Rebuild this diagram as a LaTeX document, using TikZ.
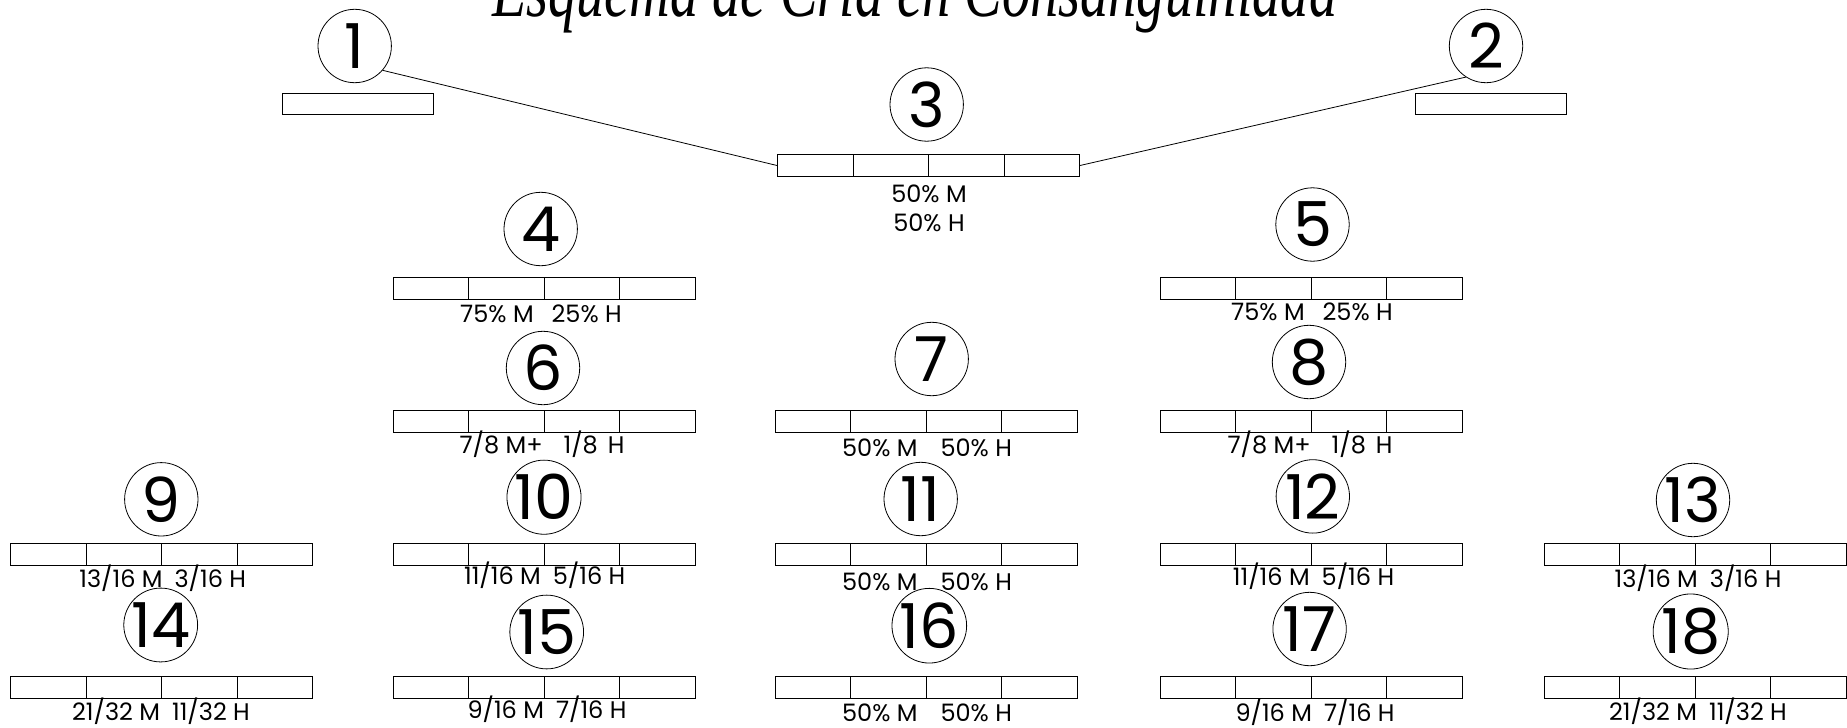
\documentclass[tikz,border=0pt]{standalone}
\usepackage{fontspec}
\setmainfont{Poppins}
\newfontfamily\titlefont{Liberation Serif}
\usepackage{graphicx}
\usetikzlibrary{calc}

\begin{document}
\begin{tikzpicture}[x=1pt, y=-1pt,
  num/.style={draw, circle, line width=0.8pt, minimum size=73.4pt, inner sep=0pt, font=\fontsize{62}{62}\selectfont},
  bar/.style={draw, line width=1pt, minimum width=302pt, minimum height=22.5pt, inner sep=0pt,
    path picture={\foreach \f in {0.25,0.5,0.75}
      \draw[line width=1pt] ($(path picture bounding box.north west)!\f!(path picture bounding box.north east)$)
        -- ($(path picture bounding box.south west)!\f!(path picture bounding box.south east)$);}},
  halfbar/.style={draw, line width=1pt, minimum width=151pt, minimum height=21pt, inner sep=0pt},
  pct/.style={anchor=base, inner sep=0pt, font=\fontsize{24}{28}\selectfont}]
  \path[use as bounding box] (0,0) rectangle (1847,728);
  \clip (0,0) rectangle (1847,728);
  \node[anchor=base west, inner sep=0pt] (title) at (492,16.7) {\resizebox{845pt}{\height}{\titlefont\fontsize{78}{80}\selectfont\itshape Esquema de Cría en Consanguinidad}};
  % parents
  \node[num] (c1) at (354.7,46) {1};
  \node[halfbar] (b1) at (358.3,103.8) {};
  \node[num] (c2) at (1486,46) {2};
  \node[halfbar] (b2) at (1491.3,103.8) {};
  \node[num] (c3) at (926.7,104.5) {3};
  \node[bar] (b3) at (928.5,165.5) {};
  \node[pct] (l3a) at (929,202.5) {50\% M};
  \node[pct] (l3b) at (929,231.5) {50\% H};
  \draw[line width=0.8pt] (c1.-41) -- (b3.west);
  \draw[line width=0.8pt] (c2.-123) -- (b3.east);
  % second row
  \node[num] (c4) at (540.7,229) {4};
  \node[bar] (b4) at (544.4,288.3) {};
  \node[pct] (l4) at (541,322) {75\% M\hspace{18pt}25\% H};
  \node[num] (c5) at (1312.5,224.5) {5};
  \node[bar] (b5) at (1311,288.3) {};
  \node[pct] (l5) at (1312,320) {75\% M\hspace{18pt}25\% H};
  % third row
  \node[num] (c6) at (543,368) {6};
  \node[bar] (b6) at (544.4,421.3) {};
  \node[pct] (l6) at (542,453.5) {7/8 M+\hspace{21pt}1/8\hspace{10pt}H};
  \node[num] (c7) at (931.7,359) {7};
  \node[bar] (b7) at (926,421.3) {};
  \node[pct] (l7) at (927,456.7) {50\% M\hspace{23pt}50\% H};
  \node[num] (c8) at (1309,362) {8};
  \node[bar] (b8) at (1311,421.3) {};
  \node[pct] (l8) at (1310,453) {7/8 M+\hspace{21pt}1/8\hspace{10pt}H};
  % fourth row
  \node[num] (c9) at (161.3,499.3) {9};
  \node[bar] (b9) at (161.6,554.5) {};
  \node[pct] (l9) at (162.7,587) {13/16 M\hspace{12pt}3/16 H};
  \node[num] (c10) at (544,497.2) {10};
  \node[bar] (b10) at (544.4,554.5) {};
  \node[pct] (l10) at (544.7,584) {11/16 M\hspace{12pt}5/16 H};
  \node[num] (c11) at (920.7,499) {11};
  \node[bar] (b11) at (926,554.5) {};
  \node[pct] (l11) at (927,590) {50\% M\hspace{23pt}50\% H};
  \node[num] (c12) at (1312.8,496.4) {12};
  \node[bar] (b12) at (1311,554.5) {};
  \node[pct] (l12) at (1313.5,585) {11/16 M\hspace{12pt}5/16 H};
  \node[num] (c13) at (1693,500) {13};
  \node[bar] (b13) at (1695,554.5) {};
  \node[pct] (l13) at (1698,587) {13/16 M\hspace{12pt}3/16 H};
  % fifth row
  \node[num] (c14) at (160.7,625) {14};
  \node[bar] (b14) at (161.6,687.5) {};
  \node[pct] (l14) at (161,720) {21/32 M\hspace{12pt}11/32 H};
  \node[num] (c15) at (546.7,632) {15};
  \node[bar] (b15) at (544.4,687.5) {};
  \node[pct] (l15) at (547,718.6) {9/16 M\hspace{12pt}7/16 H};
  \node[num] (c16) at (929.3,625.7) {16};
  \node[bar] (b16) at (926,687.5) {};
  \node[pct] (l16) at (927,721.5) {50\% M\hspace{23pt}50\% H};
  \node[num] (c17) at (1309.6,629) {17};
  \node[bar] (b17) at (1311,687.5) {};
  \node[pct] (l17) at (1315,721) {9/16 M\hspace{12pt}7/16 H};
  \node[num] (c18) at (1690.7,631.5) {18};
  \node[bar] (b18) at (1695,687.5) {};
  \node[pct] (l18) at (1698,720) {21/32 M\hspace{12pt}11/32 H};
\end{tikzpicture}
\end{document}
